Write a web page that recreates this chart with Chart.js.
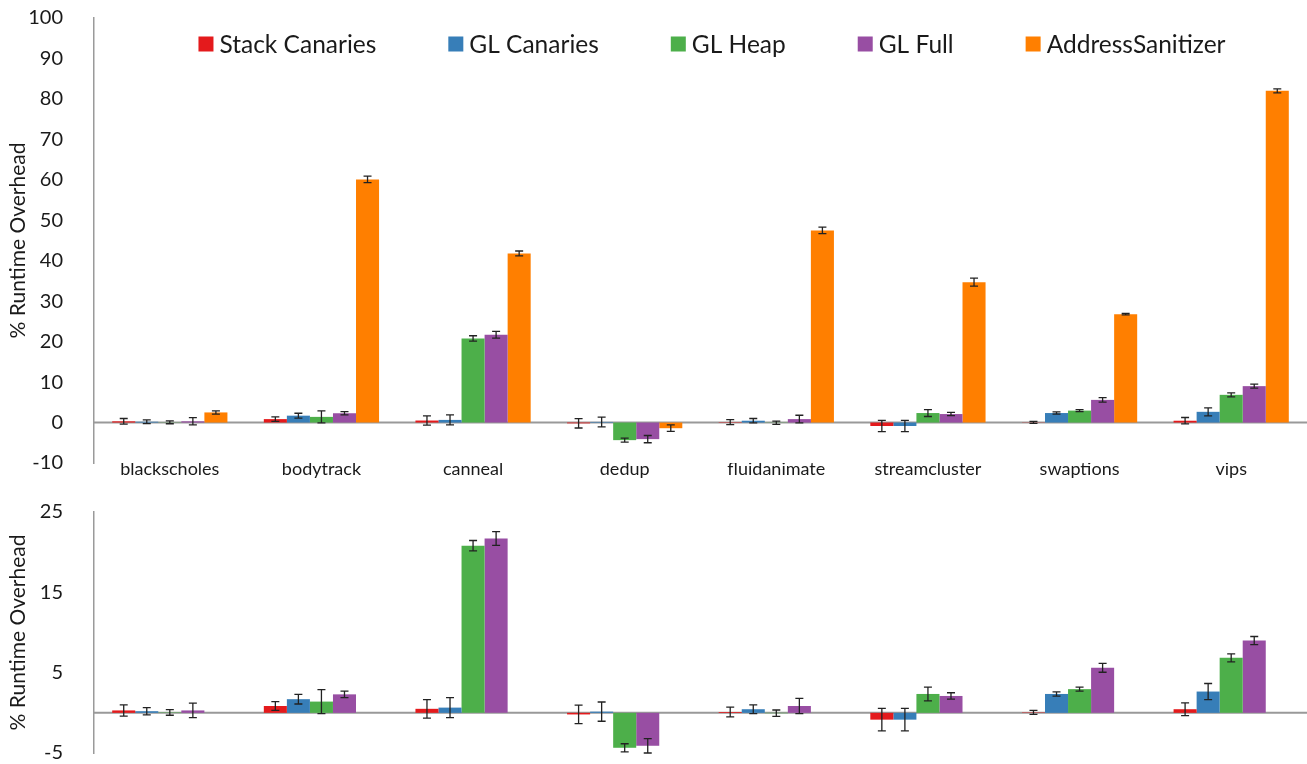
<!DOCTYPE html>
<html>
<head>
<meta charset="utf-8">
<script src="https://cdn.jsdelivr.net/npm/chart.js@4.4.1/dist/chart.umd.min.js"></script>
<style>
  html, body { margin: 0; padding: 0; background: #fff; }
  #top    { position: absolute; left: 0; top: 0;     width: 1307px; height: 490px; }
  #bottom { position: absolute; left: 0; top: 490px; width: 1307px; height: 274px; }
</style>
</head>
<body>
<div id="top"><canvas id="topChart"></canvas></div>
<div id="bottom"><canvas id="bottomChart"></canvas></div>
<script>
// ———————————————— Data ————————————————
const benchmarks = ['blackscholes', 'bodytrack', 'canneal', 'dedup', 'fluidanimate', 'streamcluster', 'swaptions', 'vips'];

const stackCanaries    = [0.3, 0.85, 0.5, -0.2, 0.1, -0.85, 0.05, 0.45];
const stackCanariesErr = [0.7, 0.55, 1.15, 1.15, 0.6, 1.4, 0.25, 0.8];
const glCanaries       = [0.2, 1.7, 0.65, 0.15, 0.45, -0.85, 2.35, 2.65];
const glCanariesErr    = [0.45, 0.6, 1.25, 1.2, 0.55, 1.4, 0.27, 1.0];
const glHeap           = [0.05, 1.4, 20.8, -4.35, -0.05, 2.35, 2.95, 6.85];
const glHeapErr        = [0.35, 1.5, 0.65, 0.5, 0.4, 0.85, 0.25, 0.5];
const glFull           = [0.3, 2.3, 21.7, -4.1, 0.85, 2.1, 5.6, 9.0];
const glFullErr        = [0.9, 0.4, 0.85, 0.9, 0.95, 0.4, 0.55, 0.5];
const asan             = [2.5, 60.1, 41.8, -1.4, 47.5, 34.7, 26.8, 82.0];
const asanErr          = [0.4, 0.8, 0.6, 0.8, 0.8, 1.0, 0.2, 0.5];
const asanHidden       = [null, null, null, null, null, null, null, null];

const topTicks    = { min: -10, max: 100, step: 10 };
const bottomTicks = { min: -5, max: 25, step: 10 };

const colors = {
  stack: '#E41A1C',
  glCan: '#377EB8',
  glHeap: '#4DAF4A',
  glFull: '#984EA3',
  asan: '#FF7F00'
};

const FONT = 'Lato, "Open Sans", sans-serif';
const TEXT = '#1a1a1a';

// ———————————————— Plugins ————————————————
// error bars from dataset.errors
const errorBarPlugin = {
  id: 'errorBars',
  afterDatasetsDraw(chart) {
    const ctx = chart.ctx;
    const y = chart.scales.y;
    ctx.save();
    ctx.strokeStyle = '#222';
    ctx.lineWidth = 1.3;
    chart.data.datasets.forEach((ds, i) => {
      if (!ds.errors) return;
      const meta = chart.getDatasetMeta(i);
      meta.data.forEach((bar, j) => {
        const v = ds.data[j];
        if (v == null) return;
        const e = ds.errors[j];
        const yHi = y.getPixelForValue(v + e);
        const yLo = y.getPixelForValue(v - e);
        const cap = 4;
        ctx.beginPath();
        ctx.moveTo(bar.x, yHi); ctx.lineTo(bar.x, yLo);
        ctx.moveTo(bar.x - cap, yHi); ctx.lineTo(bar.x + cap, yHi);
        ctx.moveTo(bar.x - cap, yLo); ctx.lineTo(bar.x + cap, yLo);
        ctx.stroke();
      });
    });
    ctx.restore();
  }
};

// horizontal line at zero
const zeroLinePlugin = {
  id: 'zeroLine',
  beforeDatasetsDraw(chart) {
    const ctx = chart.ctx;
    const area = chart.chartArea;
    const y0 = chart.scales.y.getPixelForValue(0);
    ctx.save();
    ctx.strokeStyle = '#999';
    ctx.lineWidth = 2;
    ctx.beginPath();
    ctx.moveTo(area.left, y0);
    ctx.lineTo(area.right, y0);
    ctx.stroke();
    ctx.restore();
  }
};

// legend drawn inside the plot area, one row
const insideLegendPlugin = {
  id: 'insideLegend',
  afterDraw(chart, args, opts) {
    if (!opts.display) return;
    const ctx = chart.ctx;
    ctx.save();
    ctx.font = opts.fontSize + 'px ' + FONT;
    ctx.textBaseline = 'middle';
    ctx.fillStyle = TEXT;
    const items = chart.data.datasets.map(ds => ({
      label: ds.label,
      color: ds.backgroundColor,
      w: opts.box + opts.boxGap + ctx.measureText(ds.label).width
    }));
    const total = items.reduce((s, it) => s + it.w, 0) + opts.gap * (items.length - 1);
    let x = opts.centerX - total / 2;
    items.forEach(it => {
      ctx.fillStyle = it.color;
      ctx.fillRect(x, opts.y - opts.box / 2, opts.box, opts.box);
      ctx.fillStyle = TEXT;
      ctx.fillText(it.label, x + opts.box + opts.boxGap, opts.y + 1);
      x += it.w + opts.gap;
    });
    ctx.restore();
  }
};

function makeDatasets(withAsan) {
  return [
    { label: 'Stack Canaries',   data: stackCanaries, errors: stackCanariesErr, backgroundColor: colors.stack },
    { label: 'GL Canaries',      data: glCanaries,    errors: glCanariesErr,    backgroundColor: colors.glCan },
    { label: 'GL Heap',          data: glHeap,        errors: glHeapErr,        backgroundColor: colors.glHeap },
    { label: 'GL Full',          data: glFull,        errors: glFullErr,        backgroundColor: colors.glFull },
    { label: 'AddressSanitizer', data: withAsan ? asan : asanHidden, errors: asanErr, backgroundColor: colors.asan }
  ];
}

function yAxis(range) {
  return {
    min: range.min,
    max: range.max,
    afterFit: s => { s.width = 94; s.paddingTop = 0; s.paddingBottom = 0; },
    grid: { display: false },
    border: { display: true, color: '#9a9a9a', width: 1.5 },
    ticks: {
      stepSize: range.step,
      padding: 23,
      color: TEXT,
      font: { family: FONT, size: 20 }
    },
    afterBuildTicks: s => {
      const t = [];
      for (let v = range.min; v <= range.max + 1e-9; v += range.step) t.push({ value: v });
      s.ticks = t;
    },
    title: {
      display: true,
      text: '% Runtime Overhead',
      color: TEXT,
      font: { family: FONT, size: 21 },
      padding: { top: 6, bottom: 0 }
    }
  };
}

Chart.defaults.font.family = FONT;

// ———————————————— Top chart (all series) ————————————————
new Chart(document.getElementById('topChart'), {
  type: 'bar',
  data: { labels: benchmarks, datasets: makeDatasets(true) },
  plugins: [zeroLinePlugin, errorBarPlugin, insideLegendPlugin],
  options: {
    responsive: true,
    maintainAspectRatio: false,
    animation: false,
    layout: { padding: { top: 18, right: 0, left: 0, bottom: 0 } },
    datasets: { bar: { categoryPercentage: 0.76, barPercentage: 1.0, borderWidth: 0 } },
    plugins: {
      legend: { display: false },
      tooltip: { enabled: false },
      insideLegend: { display: true, centerX: 712, y: 44, box: 15, boxGap: 6, gap: 72, fontSize: 24.5 }
    },
    scales: {
      x: {
        afterFit: s => { s.height = 27; s.paddingLeft = 0; s.paddingRight = 0; },
        grid: { display: false },
        border: { display: false },
        ticks: { color: TEXT, padding: -13, maxRotation: 0, autoSkip: false, font: { family: FONT, size: 18 } }
      },
      y: yAxis(topTicks)
    }
  }
});

// ———————————————— Bottom chart (zoom, no ASan) ————————————————
new Chart(document.getElementById('bottomChart'), {
  type: 'bar',
  data: { labels: benchmarks, datasets: makeDatasets(false) },
  plugins: [zeroLinePlugin, errorBarPlugin],
  options: {
    responsive: true,
    maintainAspectRatio: false,
    animation: false,
    layout: { padding: { top: 22, right: 0, left: 0, bottom: 11 } },
    datasets: { bar: { categoryPercentage: 0.76, barPercentage: 1.0, borderWidth: 0 } },
    plugins: {
      legend: { display: false },
      tooltip: { enabled: false }
    },
    scales: {
      x: { display: false },
      y: yAxis(bottomTicks)
    }
  }
});
</script>
</body>
</html>
